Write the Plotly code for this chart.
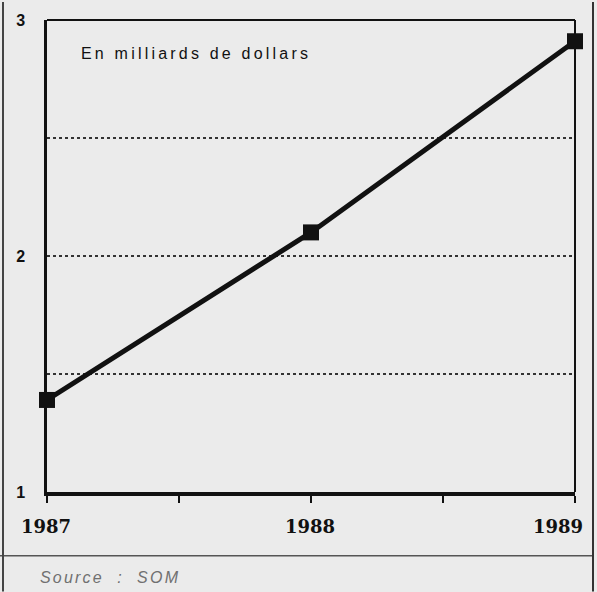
import plotly.graph_objects as go

years = [1987, 1988, 1989]
values = [1.39, 2.10, 2.91]
y_ticks = [1, 1.5, 2, 2.5, 3]
y_ticktext = ["1", "", "2", "", "3"]
x_ticks = [1987, 1987.5, 1988, 1988.5, 1989]
year_labels = ["1987", "1988", "1989"]

W, H = 597, 592
L, R, T, B = 47, 22, 18, 100
pw, ph = W - L - R, H - T - B

def px(x):
    return (x - L) / pw

def py(y):
    return (H - B - y) / ph

bg = "#ebebeb"
fig = go.Figure()
fig.add_trace(go.Scatter(
    x=years, y=values, mode="lines+markers",
    line=dict(color="#111111", width=5),
    marker=dict(symbol="square", size=16, color="#111111"),
    cliponaxis=False, showlegend=False, hoverinfo="skip",
))

annotations = []
for i, (yr, lab) in enumerate(zip(years, year_labels)):
    last = i == len(years) - 1
    annotations.append(dict(
        text=lab, x=yr, xref="x", y=py(527), yref="paper",
        xanchor="right" if last else "center", xshift=10 if last else -1,
        yanchor="middle", showarrow=False,
        font=dict(family="DejaVu Serif", size=18, color="#111111", weight="bold"),
    ))

annotations += [
    dict(text="<span style='letter-spacing:3.2px'>En milliards de dollars</span>",
         xref="paper", yref="paper",
         x=px(79), y=py(52), xanchor="left", yanchor="middle", showarrow=False,
         font=dict(family="Liberation Sans", size=16, color="#111111")),
    dict(text="<span style='letter-spacing:2.2px'><i>Source  :  SOM</i></span>",
         xref="paper", yref="paper",
         x=px(38), y=py(578), xanchor="left", yanchor="middle", showarrow=False,
         font=dict(family="Liberation Sans", size=16, color="#707070")),
]

fig.update_layout(
    width=W, height=H,
    margin=dict(l=L, r=R, t=T, b=B),
    paper_bgcolor=bg, plot_bgcolor=bg,
    xaxis=dict(
        range=[1987, 1989], tickvals=x_ticks, showticklabels=False,
        showgrid=False, zeroline=False,
        showline=True, linecolor="#111111", linewidth=4,
        ticks="outside", ticklen=7, tickwidth=2, tickcolor="#111111",
    ),
    yaxis=dict(
        range=[1, 3], tickvals=y_ticks, ticktext=y_ticktext,
        showgrid=True, gridcolor="#333333", griddash="dot", gridwidth=1.5,
        zeroline=False,
        showline=True, linecolor="#111111", linewidth=2.5,
        ticks="", ticklabelstandoff=16,
        tickfont=dict(family="Liberation Sans", size=16, color="#111111", weight="bold"),
    ),
    shapes=[
        dict(type="line", xref="paper", yref="paper", x0=0, x1=1, y0=1, y1=1,
             line=dict(color="#111111", width=2)),
        dict(type="line", xref="paper", yref="paper", x0=1, x1=1, y0=0, y1=1,
             line=dict(color="#111111", width=2)),
        dict(type="line", xref="paper", yref="paper", x0=px(0), x1=px(593), y0=py(556), y1=py(556),
             line=dict(color="#555555", width=1.5)),
        dict(type="line", xref="paper", yref="paper", x0=px(3), x1=px(3), y0=py(0), y1=py(592),
             line=dict(color="#444444", width=2)),
        dict(type="line", xref="paper", yref="paper", x0=px(593), x1=px(593), y0=py(0), y1=py(592),
             line=dict(color="#333333", width=2)),
    ],
    annotations=annotations,
)

fig.write_html(
    "out.html",
    config={"displayModeBar": False},
    post_script="document.body.style.margin='0';document.body.style.overflow='hidden';",
)
